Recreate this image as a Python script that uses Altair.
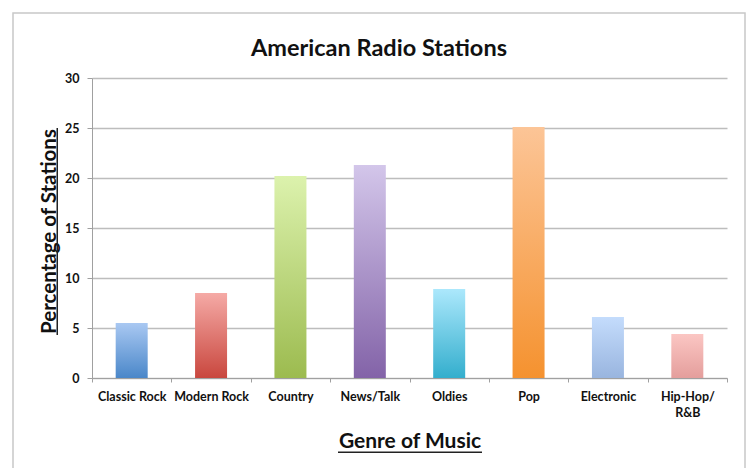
import altair as alt
import pandas as pd

genres = ["Classic Rock", "Modern Rock", "Country", "News/Talk",
          "Oldies", "Pop", "Electronic", "Hip-Hop/R&B"]
percent = [5.5, 8.5, 20.2, 21.3, 8.9, 25.1, 6.1, 4.4]
top_colors = ["#a9c8f2", "#f5aaa6", "#dcf2ad", "#d3c6ea",
              "#ace8fc", "#fcc597", "#c4dcfc", "#fbc6c3"]
bottom_colors = ["#4a87c9", "#c9473e", "#9cbb4f", "#8363a8",
                 "#33aecd", "#f5922f", "#99b5df", "#e49e9c"]
y_ticks = [0, 5, 10, 15, 20, 25, 30]

df = pd.DataFrame({"genre": genres, "pct": percent})

W, H = 635, 300
FONT = "Lato"
AXIS_GREY = "#a0a0a0"

x_enc = alt.X(
    "genre:N", sort=genres,
    scale=alt.Scale(domain=genres, paddingInner=0, paddingOuter=0),
    axis=alt.Axis(
        title="Genre of Music", labelAngle=0,
        labelExpr="datum.label == 'Hip-Hop/R&B' ? ['Hip-Hop/', 'R&B'] : datum.label",
        tickBand="extent", ticks=True, tickSize=4, tickColor=AXIS_GREY,
        domainColor=AXIS_GREY, grid=False,
        labelFont=FONT, labelFontSize=12.5, labelFontWeight="bold",
        labelColor="#111111", labelPadding=8, labelLineHeight=16,
        titleFont=FONT, titleFontSize=21, titleFontWeight="bold",
        titleColor="#111111", titleY=69, titleBaseline="alphabetic",
    ),
)

y_enc = alt.Y(
    "pct:Q", scale=alt.Scale(domain=[0, 30]),
    axis=alt.Axis(
        values=y_ticks, title="Percentage of Stations",
        grid=True, gridColor="#bdbdbd", gridWidth=1.5,
        tickSize=5, tickColor=AXIS_GREY, domainColor=AXIS_GREY,
        labelFont=FONT, labelFontSize=12.5, labelFontWeight="bold",
        labelColor="#111111", labelPadding=8,
        titleFont=FONT, titleFontSize=20.5, titleFontWeight="bold",
        titleColor="#111111", titleX=-37, titleY=153, titleAngle=-90,
        titleBaseline="alphabetic", titleAlign="center",
    ),
)

one = alt.Data(values=[{}])

frame = alt.Chart(one).mark_rect(
    filled=False, stroke="#c8c8c8", strokeWidth=1.5
).encode(x=alt.value(-79), x2=alt.value(653), y=alt.value(-65), y2=alt.value(420))

bars = []
for g, tc, bc in zip(genres, top_colors, bottom_colors):
    grad = alt.Gradient(
        gradient="linear",
        stops=[alt.GradientStop(color=tc, offset=0), alt.GradientStop(color=bc, offset=1)],
        x1=0, x2=0, y1=0, y2=1,
    )
    bars.append(
        alt.Chart(df).transform_filter(alt.datum.genre == g)
        .mark_bar(size=32, color=grad)
        .encode(x=x_enc, y=y_enc)
    )

title = alt.Chart(one).mark_text(
    text="American Radio Stations", font=FONT, fontSize=23.5, fontWeight="bold",
    baseline="alphabetic", align="center", color="#111111"
).encode(x=alt.value(287), y=alt.value(-22))

ul_y = alt.Chart(one).mark_rect(color="#222222").encode(
    x=alt.value(-35.5), x2=alt.value(-34), y=alt.value(50), y2=alt.value(257))
ul_x = alt.Chart(one).mark_rect(color="#222222").encode(
    x=alt.value(246), x2=alt.value(390), y=alt.value(373.5), y2=alt.value(375))

chart = alt.layer(frame, *bars, title, ul_y, ul_x).properties(
    width=W, height=H,
    autosize=alt.AutoSizeParams(type="none"),
    padding={"left": 92, "top": 78, "right": 23, "bottom": 90},
    background="white",
).configure_view(stroke=None)

chart.save("out.html", embed_options={"renderer": "svg", "actions": False})
